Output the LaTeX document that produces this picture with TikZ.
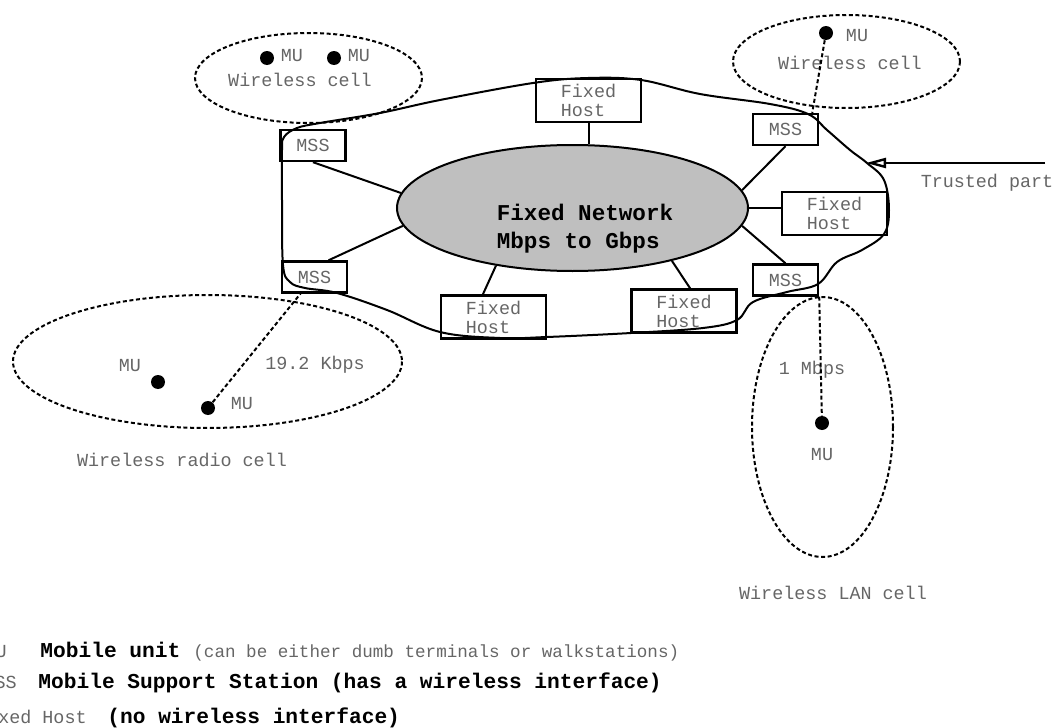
\documentclass[tikz,border=0pt]{standalone}
\usepackage{fontspec}
\setmainfont{Liberation Mono}
\usepackage{tikz}
\usetikzlibrary{arrows.meta, positioning, shapes.geometric, calc}

\begin{document}
\begin{tikzpicture}[
  x=0.5pt, y=-0.5pt,
  every node/.style={font=\fontsize{9.2}{9.5}\selectfont, text=black!60},
  box/.style={rectangle, draw=black, line width=1.2pt, inner sep=0pt, align=left},
  hostbox/.style={box, minimum width=52.5pt, minimum height=21.5pt},
  mssbox/.style={box, minimum width=32.5pt, minimum height=15.5pt},
  dot/.style={circle, fill=black, inner sep=0pt, minimum size=7pt},
  link/.style={line width=1pt},
  radio/.style={line width=1pt, dash pattern=on 2pt off 1.3pt},
  netlabel/.style={font=\fontsize{11.3}{14}\selectfont\bfseries, text=black, align=left},
  legkey/.style={inner sep=0pt, anchor=mid east},
  legbold/.style={font=\fontsize{10.6}{11}\selectfont\bfseries, text=black, inner sep=0pt, anchor=mid west},
  legnote/.style={font=\fontsize{8.8}{9}\selectfont, inner sep=0pt, anchor=mid west},
]
  \useasboundingbox (0,0) rectangle (1057,728);

  % backbone
  \node[ellipse, draw, line width=1pt, fill=black!25, inner sep=0pt,
        minimum width=175.5pt, minimum height=63pt] (net) at (572.5,208) {};
  \node[netlabel] (netlbl) at (585,229) {Fixed Network\\Mbps to Gbps};

  \node[hostbox] (fhtop)   at (588.5,100.5) {Fixed\\Host};
  \node[hostbox] (fhright) at (834.5,213.5) {Fixed\\Host};
  \node[hostbox] (fhbl)    at (493.5,317)   {Fixed\\Host};
  \node[hostbox] (fhbr)    at (684,311)     {Fixed\\Host};

  \node[mssbox] (msstl) at (313,145.5)   {MSS};
  \node[mssbox] (mssbl) at (314.5,277)   {MSS};
  \node[mssbox] (msstr) at (785.5,129.5) {MSS};
  \node[mssbox] (mssbr) at (785.5,280)   {MSS};

  \draw[link] (msstl.south) -- (net.175);
  \draw[link] (mssbl.50) -- (net.186);
  \draw[link] (fhtop.south) -- (fhtop.south |- net.north);
  \draw[link] (fhbl.115) -- (net.217);
  \draw[link] (fhbr.75) -- (net.332);
  \draw[link] (msstr.south) -- (net.6);
  \draw[link] (net.east) -- (net.east -| fhright.west);
  \draw[link] (mssbr.north) -- (net.354);

  % trusted part
  \draw[link] plot[smooth cycle, tension=0.6] coordinates {
    (282,200) (283,265) (290,282) (305,288) (337,293) (387,310) (440,332)
    (500,338) (547,337) (631,333) (703,328) (737,320) (753,302) (787,292)
    (818,284) (837,262) (862,250) (884,234) (889,210) (884,180) (867,163)
    (850,150) (827,130) (808,114) (770,104) (700,94) (641,80) (588,78)
    (533,83) (440,100) (380,113) (320,123) (297,128) (284,137) (282,150)};
  \coordinate (trusttip) at (866,163);
  \coordinate (trusttail) at (1045,163);
  \draw[link, line width=1.2pt, -{Triangle[open, length=10pt, width=5pt]}] (trusttail) -- (trusttip);
  \node (trustlbl) at (987,183) {Trusted part};

  % wireless cells
  \draw[radio] (308.5,78) ellipse (113.5 and 45);
  \node[dot] (mu1) at (267,58) {};
  \node[dot] (mu2) at (334,58) {};
  \node (mu1lbl) at (292,56) {MU};
  \node (mu2lbl) at (359,56) {MU};
  \node (celltl) at (300,80) {Wireless cell};

  \draw[radio] (846.5,61.5) ellipse (113.5 and 46.5);
  \node[dot] (mu3) at (826,33) {};
  \node (mu3lbl) at (857,36) {MU};
  \node (celltr) at (850,63) {Wireless cell};
  \draw[radio] (mu3) -- (msstr.32);

  \draw[radio] (207.5,361.5) ellipse (194.5 and 66.5);
  \node[dot] (mu4) at (158,382) {};
  \node[dot] (mu5) at (208,408) {};
  \node (mu4lbl) at (130,366) {MU};
  \node (mu5lbl) at (242,404) {MU};
  \node (rate1) at (315,365) {19.2 Kbps};
  \node (cellradio) at (182,460) {Wireless radio cell};
  \draw[radio] (mu5) -- (mssbl.230);

  \draw[radio] (822.5,427) ellipse (70.5 and 130);
  \node[dot] (mu6) at (822,423) {};
  \node (mu6lbl) at (822,455) {MU};
  \node (rate2) at (812,370) {1 Mbps};
  \node (celllan) at (833,593) {Wireless LAN cell};
  \draw[radio] (mssbr.south east) -- (mu6);

  % legend
  \node[legkey] (keymu) at (7,652) {MU};
  \node[legbold] (legmu) at (40,652) {Mobile unit};
  \node[legnote] (notemu) at (193,652) {(can be either dumb terminals or walkstations)};
  \node[legkey] (keymss) at (17,683) {MSS};
  \node[legbold] (legmss) at (38,683) {Mobile Support Station (has a wireless interface)};
  \node[legkey] (keyfh) at (87,718) {Fixed Host};
  \node[legbold] (legfh) at (107,718) {(no wireless interface)};
\end{tikzpicture}
\end{document}
